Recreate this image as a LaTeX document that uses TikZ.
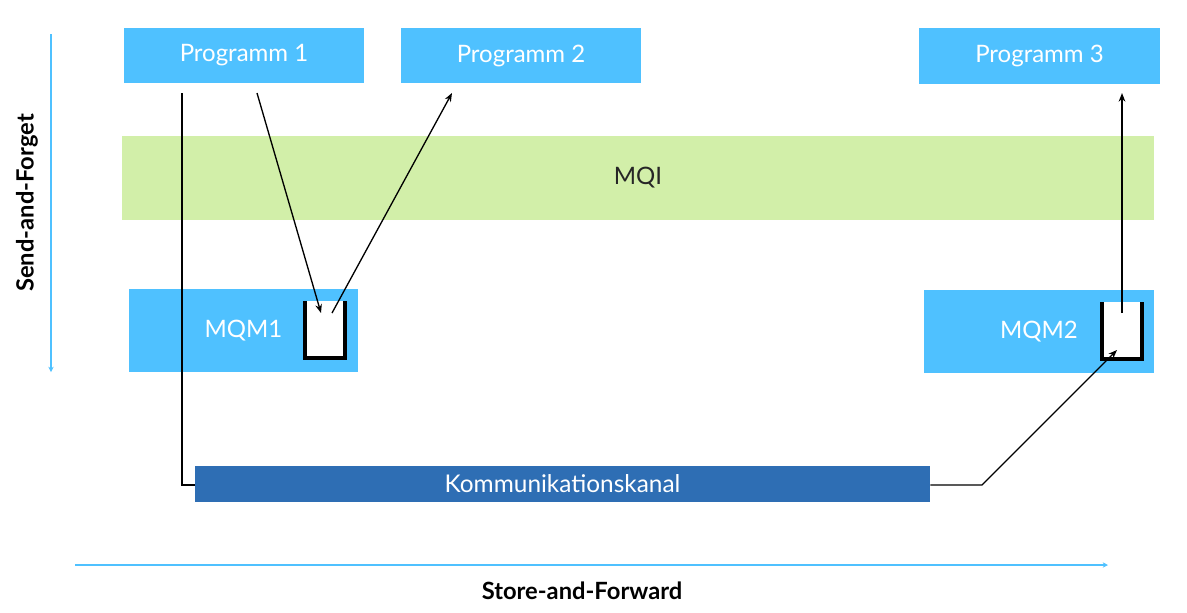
\documentclass[tikz,border=0pt]{standalone}
\usepackage{fontspec}
\setmainfont{Lato}
\usetikzlibrary{arrows.meta}
\definecolor{lblue}{HTML}{4FC1FF}
\definecolor{lgreen}{HTML}{D2EFA9}
\definecolor{dblue}{HTML}{2E6EB4}
\begin{document}
\begin{tikzpicture}[x=0.75pt,y=-0.75pt,
  box/.style={fill=lblue,text=white,inner sep=0pt,font=\fontsize{18}{20}\selectfont},
  conn/.style={draw=black,line width=1pt},
  arr/.style={conn,-{Stealth[length=6.5pt,width=5pt]}},
  axis/.style={draw=lblue,line width=1.2pt,-{Stealth[length=4pt,width=4pt]}},
  axlabel/.style={font=\bfseries\fontsize{17.8}{19}\selectfont,inner sep=0pt},
  qwall/.style={draw=black,line width=3pt}]
\useasboundingbox (0,0) rectangle (1187,612);
% top programs
\node[box,minimum width=180pt,minimum height=41.25pt] (p1) at (244,55.5) {Programm 1};
\node[box,minimum width=180pt,minimum height=41.25pt] (p2) at (521,55.5) {Programm 2};
\node[box,minimum width=180.75pt,minimum height=42pt] (p3) at (1039.5,56) {Programm 3};
% MQI
\node[fill=lgreen,text=black!85,inner sep=0pt,font=\fontsize{18}{20}\selectfont,minimum width=774pt,minimum height=63pt] (mqi) at (638,178) {MQI};
% queue managers
\node[box,minimum width=171.75pt,minimum height=62.25pt] (mqm1) at (243.5,330.5) {MQM1};
\node[box,minimum width=172.5pt,minimum height=62.25pt] (mqm2) at (1039,331.5) {MQM2};
% queues
\fill[white] (305,301) rectangle (345,358);
\draw[qwall] (305,301) -- (305,358) -- (345,358) -- (345,301);
\fill[white] (1102,302) rectangle (1142,359);
\draw[qwall] (1102,302) -- (1102,359) -- (1142,359) -- (1142,302);
\coordinate (q1in) at (321,313);
\coordinate (q1out) at (332,313);
\coordinate (q2in) at (1117,350);
\coordinate (q2out) at (1122,313);
% channel
\node[fill=dblue,text=white,inner sep=0pt,font=\fontsize{18.3}{20}\selectfont,minimum width=551.25pt,minimum height=27pt] (kk) at (562.5,484) {Kommunikationskanal};
% connectors
\coordinate (p1a) at (182,93);
\coordinate (p1b) at (257,93);
\coordinate (p2in) at (452,93);
\coordinate (p3in) at (1122,93);
\coordinate (bend1) at (182,485);
\coordinate (bend2) at (982,485);
\draw[conn] (p1a) -- (bend1) -- (kk.west |- bend1);
\draw[arr] (p1b) -- (q1in);
\draw[arr] (q1out) -- (p2in);
\draw[arr] (kk.east |- bend2) -- (bend2) -- (q2in);
\draw[arr] (q2out) -- (p3in);
% axes
\coordinate (ax1s) at (51,34);
\coordinate (ax1e) at (51,372);
\coordinate (ax2s) at (75,565);
\coordinate (ax2e) at (1108,565);
\draw[axis] (ax1s) -- (ax1e);
\draw[axis] (ax2s) -- (ax2e);
\node[axlabel,rotate=90] (sf) at (27,203) {Send-and-Forget};
\node[axlabel] (stf) at (582,591) {Store-and-Forward};
\end{tikzpicture}
\end{document}
